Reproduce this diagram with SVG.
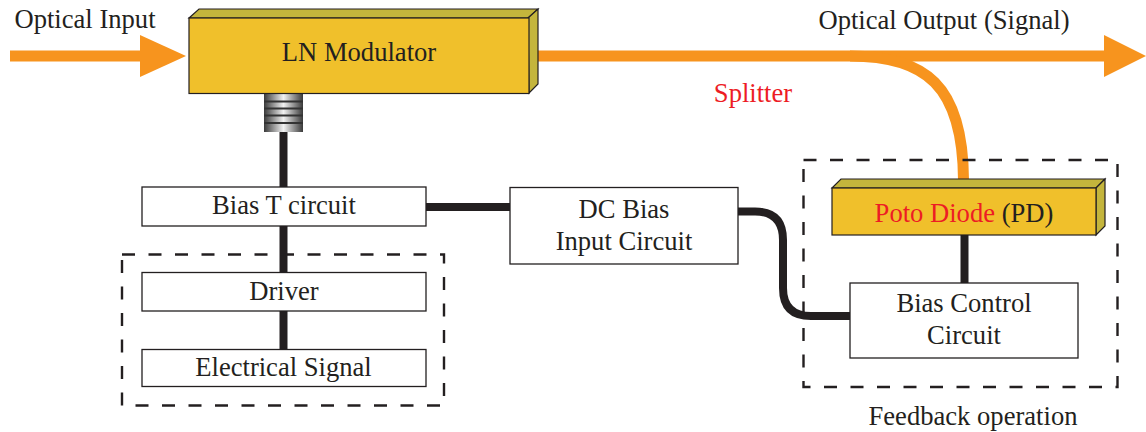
<svg xmlns="http://www.w3.org/2000/svg" width="1146" height="432" viewBox="0 0 1146 432">
<style>
text{font-family:"Liberation Serif","Times New Roman",serif;font-size:26.6px;fill:#231f20;text-anchor:middle}
.red{fill:#ed1c24}
.box{fill:#fff;stroke:#231f20;stroke-width:1.3}
.front{fill:#f0c02b;stroke:#231f20;stroke-width:1.2}
.side{fill:#c4b53c;stroke:#231f20;stroke-width:1.2;stroke-linejoin:miter}
.dash{fill:none;stroke:#231f20;stroke-width:2.4;stroke-dasharray:13 13.5}
.wire{fill:none;stroke:#231f20;stroke-width:8}
.fiber{fill:none;stroke:#f7941e;stroke-width:11}
</style>
<defs>
<linearGradient id="metal" x1="0" x2="1" y1="0" y2="0">
<stop offset="0" stop-color="#3a3a3a"/><stop offset=".5" stop-color="#f2f2f2"/><stop offset="1" stop-color="#3a3a3a"/>
</linearGradient>
</defs>
<g id="connectors">
<path class="fiber" d="M10 56H150"/>
<path d="M140 35L186 56L140 77Z" fill="#f7941e"/>
<path class="fiber" d="M535 56H1110"/>
<path d="M1104 35L1146 56L1104 77Z" fill="#f7941e"/>
<path class="fiber" d="M850 56C925 56 963 85 963.500 180"/>
<path class="wire" d="M283.500 130V187"/>
<path class="wire" d="M283.500 226V272"/>
<path class="wire" d="M283.500 311V350"/>
<path class="wire" d="M426 207H510"/>
<path class="wire" d="M738 211.500H755Q783 211.500 783 240V288Q783 316 811 316H850"/>
<path class="wire" d="M964.500 235V283"/>
</g>
<g id="feedback-frame"><rect class="dash" x="803.500" y="160" width="314" height="227"/></g>
<g id="driver-frame"><rect class="dash" x="122" y="254.500" width="322" height="151"/></g>
<g id="lead">
<rect x="264" y="94" width="39" height="38" fill="url(#metal)"/>
<path d="M264 101.500H303M264 108.500H303M264 115.500H303M264 123H303" stroke="#333" stroke-width="1.800"/>
</g>
<g id="lnmod">
<path class="side" d="M189 18L199 9H538L528 18Z"/>
<path class="side" d="M528 18L538 9V84L529 93Z"/>
<rect class="front" x="189" y="18" width="340" height="75.500"/>
<text x="359" y="61">LN Modulator</text>
</g>
<g id="biast"><rect class="box" x="142" y="187" width="284" height="39"/><text x="284" y="214">Bias T circuit</text></g>
<g id="dcbias"><rect class="box" x="510" y="187.500" width="228" height="76.500"/><text x="624" y="218">DC Bias</text><text x="624" y="250">Input Circuit</text></g>
<g id="driver"><rect class="box" x="142" y="272.500" width="284" height="38.500"/><text x="284" y="300">Driver</text></g>
<g id="signal"><rect class="box" x="142" y="349.500" width="284" height="37"/><text x="283.500" y="376">Electrical Signal</text></g>
<g id="pd">
<path class="side" d="M832 188L841 179H1105L1096 188Z"/>
<path class="side" d="M1096 188L1105 179V226L1096 235Z"/>
<rect class="front" x="832" y="188" width="264" height="47"/>
<text x="964" y="222"><tspan class="red">Poto Diode</tspan> (PD)</text>
</g>
<g id="biascontrol"><rect class="box" x="850" y="283" width="228" height="75"/><text x="964" y="312">Bias Control</text><text x="964" y="344">Circuit</text></g>
<g id="labels">
<text x="85" y="28">Optical Input</text>
<text x="944" y="29">Optical Output (Signal)</text>
<text class="red" x="753" y="102">Splitter</text>
<text x="973" y="425">Feedback operation</text>
</g>
</svg>
